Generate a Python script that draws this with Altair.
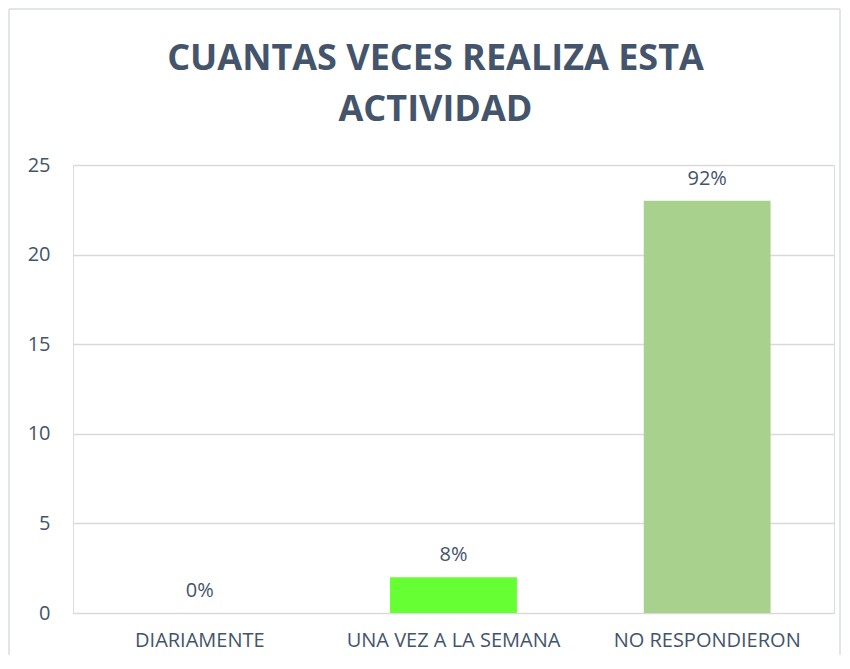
import altair as alt
import pandas as pd

categories = ["DIARIAMENTE", "UNA VEZ A LA SEMANA", "NO RESPONDIERON"]
values = [0, 2, 23]
labels = ["0%", "8%", "92%"]
colors = ["#70AD47", "#66FF33", "#A9D18E"]

df = pd.DataFrame({"cat": categories, "val": values, "lab": labels, "col": colors})

W, H = 761, 448
TXT = "#44546A"
FONT = "Open Sans"
BORDER = "#D9DEE5"

x = alt.X("cat:N", sort=categories, title=None,
          scale=alt.Scale(paddingInner=0.5, paddingOuter=0.25),
          axis=alt.Axis(labelAngle=0, labelFontSize=20, labelColor=TXT, labelFont=FONT,
                        ticks=False, domain=False, labelPadding=17, grid=False, labelLimit=400))
y = alt.Y("val:Q", title=None,
          scale=alt.Scale(domain=[0, 25], nice=False),
          axis=alt.Axis(values=[0, 5, 10, 15, 20, 25], labelFontSize=20, labelColor=TXT,
                        labelFont=FONT, ticks=False, domain=False, labelPadding=23,
                        grid=True, gridColor="#D9D9D9", gridWidth=1.3))

bars = alt.Chart(df).mark_bar().encode(x=x, y=y, color=alt.Color("col:N", scale=None))

text = alt.Chart(df).mark_text(baseline="bottom", dy=-12, fontSize=20, color=TXT,
                               font=FONT).encode(
    x=alt.X("cat:N", sort=categories), y="val:Q", text="lab:N")

base = alt.Chart(pd.DataFrame({"k": [0]}))
rule_style = dict(stroke=BORDER, strokeWidth=1.5, clip=False)
top_rule = base.mark_rule(**rule_style).encode(
    x=alt.value(-64), x2=alt.value(W + 6), y=alt.value(-156))
left_rule = base.mark_rule(**rule_style).encode(
    x=alt.value(-64), y=alt.value(-156), y2=alt.value(H + 42))
right_rule = base.mark_rule(**rule_style).encode(
    x=alt.value(W + 6), y=alt.value(-156), y2=alt.value(H + 42))

chart = alt.layer(top_rule, left_rule, right_rule, bars, text).properties(
    width=W, height=H,
    padding=0,
    autosize=alt.AutoSizeParams(type="pad"),
    title=alt.Title(["CUANTAS VECES REALIZA ESTA", "ACTIVIDAD"], fontSize=36, font=FONT,
                    fontWeight="bold", color=TXT, anchor="middle", dx=-18, offset=-121,
                    lineHeight=51)
).configure_view(strokeWidth=0).configure(background="white")

chart.save("out.html", embed_options={"renderer": "svg", "actions": False})
